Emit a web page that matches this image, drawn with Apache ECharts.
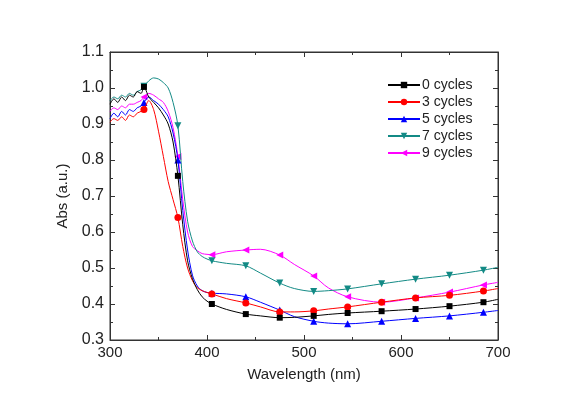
<!DOCTYPE html>
<html>
<head>
<meta charset="utf-8">
<script src="https://cdn.jsdelivr.net/npm/echarts@6/dist/echarts.min.js"></script>
<style>
  html, body { margin: 0; padding: 0; background: #fff; }
  #chart { width: 566px; height: 402px; }
</style>
</head>
<body>
<div id="chart"></div>
<script>
// 波长 (nm)
const wavelength = [300, 304, 308, 312, 316, 320, 324, 328, 332, 335, 340, 345, 350, 355, 360, 365, 370, 375, 380, 385, 390, 395, 400, 405, 420, 440, 455, 475, 490, 510, 525, 545, 580, 615, 650, 685, 700]
// 带标记的点
const markerAt = [335, 370, 405, 440, 475, 510, 545, 580, 615, 650, 685]

const cycles0 = [0.955, 0.97, 0.96, 0.975, 0.965, 0.98, 0.975, 0.99, 0.985, 1.003, 0.975, 0.96, 0.945, 0.925, 0.9, 0.85, 0.756, 0.62, 0.52, 0.47, 0.44, 0.42, 0.408, 0.4, 0.385, 0.372, 0.367, 0.362, 0.363, 0.367, 0.371, 0.375, 0.38, 0.386, 0.394, 0.405, 0.413]
const cycles3 = [0.905, 0.915, 0.91, 0.92, 0.91, 0.925, 0.92, 0.93, 0.935, 0.94, 0.965, 0.94, 0.88, 0.81, 0.74, 0.69, 0.64, 0.56, 0.5, 0.465, 0.445, 0.437, 0.432, 0.428, 0.415, 0.403, 0.392, 0.378, 0.378, 0.381, 0.386, 0.392, 0.405, 0.417, 0.424, 0.436, 0.443]
const cycles5 = [0.915, 0.93, 0.92, 0.935, 0.925, 0.94, 0.935, 0.945, 0.95, 0.96, 0.975, 0.965, 0.955, 0.94, 0.92, 0.875, 0.8, 0.66, 0.55, 0.48, 0.45, 0.437, 0.432, 0.43, 0.428, 0.42, 0.405, 0.383, 0.365, 0.352, 0.347, 0.345, 0.352, 0.36, 0.367, 0.377, 0.382]
const cycles7 = [0.965, 0.975, 0.97, 0.98, 0.975, 0.985, 0.98, 0.99, 0.995, 1.005, 1.02, 1.028, 1.025, 1.015, 1.0, 0.96, 0.895, 0.74, 0.63, 0.575, 0.545, 0.532, 0.525, 0.52, 0.513, 0.506, 0.486, 0.458, 0.443, 0.435, 0.437, 0.442, 0.456, 0.469, 0.48, 0.494, 0.502]
const cycles9 = [0.935, 0.945, 0.94, 0.95, 0.945, 0.955, 0.955, 0.96, 0.965, 0.975, 0.985, 0.98, 0.97, 0.96, 0.935, 0.89, 0.81, 0.69, 0.6, 0.56, 0.548, 0.54, 0.538, 0.537, 0.545, 0.55, 0.552, 0.536, 0.51, 0.478, 0.445, 0.42, 0.405, 0.417, 0.433, 0.453, 0.46]

const seriesNames = ['0 cycles', '3 cycles', '5 cycles', '7 cycles', '9 cycles']
const seriesColors = ['#000000', '#ff0000', '#0000ff', '#138a85', '#ff00ff']
const seriesSymbols = ['rect', 'circle', 'triangle', 'triangle', 'triangle']
const seriesRotate = [0, 0, 0, 180, 90]
const seriesValues = [cycles0, cycles3, cycles5, cycles7, cycles9]

const myChart = echarts.init(document.getElementById('chart'))

const textColor = '#222'
const fontFamily = '"Liberation Sans", Arial, sans-serif'

const series = seriesNames.map((name, i) => ({
  name: name,
  type: 'line',
  smooth: 0.3,
  data: wavelength.map((w, j) => [w, seriesValues[i][j]]),
  symbol: seriesSymbols[i],
  symbolRotate: seriesRotate[i],
  symbolSize: (val) => markerAt.includes(val[0]) ? (seriesSymbols[i] === 'rect' ? 6 : 7) : 0,
  showAllSymbol: true,
  lineStyle: { color: seriesColors[i], width: 1 },
  itemStyle: { color: seriesColors[i] },
  z: 10 - i
}))

const option = {
  animation: false,
  grid: {
    left: 110,
    right: 68,
    top: 52,
    bottom: 62,
    show: true,
    borderColor: '#333',
    borderWidth: 1
  },
  legend: {
    orient: 'vertical',
    left: 382,
    top: 73,
    itemWidth: 32,
    itemHeight: 8,
    itemGap: 3,
    data: seriesNames,
    textStyle: { fontSize: 14, color: textColor, fontFamily: fontFamily, padding: [0, 0, 0, -3] }
  },
  xAxis: [{
    type: 'value',
    min: 300,
    max: 700,
    interval: 100,
    name: 'Wavelength (nm)',
    nameLocation: 'middle',
    nameGap: 27,
    nameTextStyle: { fontSize: 15, color: textColor, fontFamily: fontFamily },
    axisLine: { onZero: false, lineStyle: { color: '#333' } },
    axisTick: { inside: true, length: 5, lineStyle: { color: '#333' } },
    minorTick: { show: true, splitNumber: 2, length: 3, lineStyle: { color: '#333' } },
    axisLabel: { fontSize: 15, color: textColor, margin: 5, fontFamily: fontFamily },
    splitLine: { show: false }
  }, {
    type: 'value',
    position: 'top',
    min: 300,
    max: 700,
    interval: 100,
    axisLine: { show: true, lineStyle: { color: '#333' } },
    axisTick: { inside: true, length: 5, lineStyle: { color: '#333' } },
    minorTick: { show: true, splitNumber: 2, length: 3, lineStyle: { color: '#333' } },
    axisLabel: { show: false },
    splitLine: { show: false }
  }],
  yAxis: [{
    type: 'value',
    min: 0.3,
    max: 1.1,
    interval: 0.1,
    name: 'Abs (a.u.)',
    nameLocation: 'middle',
    nameGap: 34,
    nameTextStyle: { fontSize: 15, color: textColor, fontFamily: fontFamily },
    axisLine: { show: true, onZero: false, lineStyle: { color: '#333' } },
    axisTick: { show: true, inside: true, length: 5, lineStyle: { color: '#333' } },
    minorTick: { show: true, splitNumber: 2, length: 3, lineStyle: { color: '#333' } },
    axisLabel: {
      fontSize: 16, color: textColor, margin: 6, fontFamily: fontFamily,
      formatter: (v) => v.toFixed(1)
    },
    splitLine: { show: false }
  }, {
    type: 'value',
    position: 'right',
    min: 0.3,
    max: 1.1,
    interval: 0.1,
    axisLine: { show: true, lineStyle: { color: '#333' } },
    axisTick: { show: true, inside: true, length: 5, lineStyle: { color: '#333' } },
    minorTick: { show: true, splitNumber: 2, length: 3, lineStyle: { color: '#333' } },
    axisLabel: { show: false },
    splitLine: { show: false }
  }],
  series: series
}
myChart.setOption(option)
</script>
</body>
</html>
